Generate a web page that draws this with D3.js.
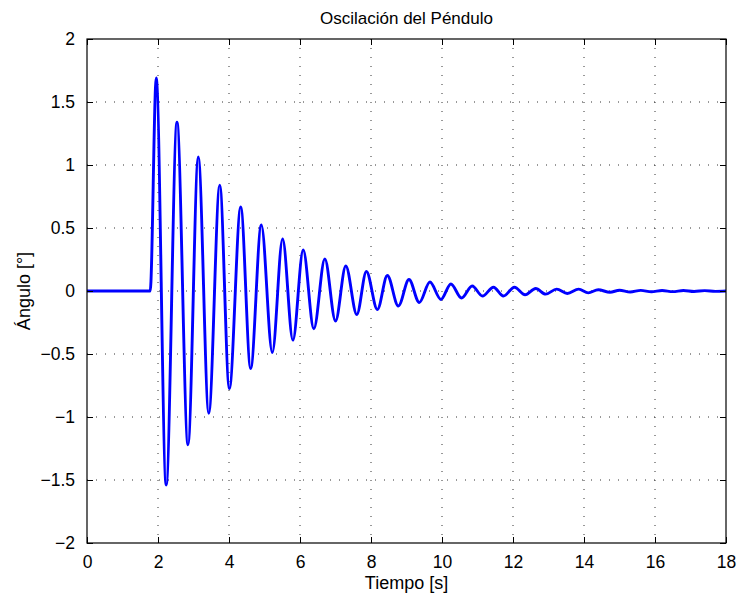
<!DOCTYPE html>
<html>
<head>
<meta charset="utf-8">
<script src="https://cdn.jsdelivr.net/npm/d3@7"></script>
<style>
  body { margin: 0; background: #fff; }
  text { font-family: "Liberation Sans", Arial, sans-serif; }
</style>
</head>
<body>
<svg width="741" height="600"></svg>
<script>
// extremes of the oscillation (time in s, angle in deg)
let times = [0, 1.78, 1.95, 2.23, 2.535, 2.845, 3.135, 3.43, 3.74, 4.01, 4.33, 4.61,
  4.91, 5.22, 5.51, 5.8, 6.09, 6.39, 6.7, 7.0, 7.29, 7.6, 7.87, 8.18, 8.46, 8.77,
  9.07, 9.36, 9.66, 9.97, 10.25, 10.55, 10.85, 11.14, 11.45, 11.73, 12.04, 12.34,
  12.64, 12.92, 13.23, 13.53, 13.85, 14.12, 14.4, 14.73, 15.0, 15.3, 15.6, 15.9,
  16.2, 16.5, 16.8, 17.1, 17.4, 17.7, 18];
let angles = [0, 0, 1.69, -1.54, 1.34, -1.22, 1.063, -0.97, 0.84, -0.775, 0.667, -0.615,
  0.524, -0.488, 0.413, -0.39, 0.325, -0.3, 0.254, -0.238, 0.198, -0.187, 0.155, -0.147,
  0.123, -0.119, 0.091, -0.091, 0.071, -0.067, 0.056, -0.056, 0.04, -0.04, 0.03, -0.04,
  0.03, -0.03, 0.02, -0.025, 0.015, -0.02, 0.015, -0.015, 0.01, -0.01, 0.006, -0.008,
  0.005, -0.006, 0.004, -0.005, 0.004, -0.004, 0.003, -0.003, 0];
let xTicks = [0, 2, 4, 6, 8, 10, 12, 14, 16, 18];
let yTicks = [-2, -1.5, -1, -0.5, 0, 0.5, 1, 1.5, 2];

let margin = { top: 39, right: 15, bottom: 57, left: 87 },
  width = 741 - margin.left - margin.right,
  height = 600 - margin.top - margin.bottom;

let svg = d3.select("svg");
let g = svg.append("g").attr("transform", `translate(${margin.left},${margin.top})`);

let x = d3.scaleLinear().domain([0, 18]).range([0, width]);
let y = d3.scaleLinear().domain([-2, 2]).range([height, 0]);

// dotted grid
g.selectAll("line.vgrid")
  .data(xTicks.slice(1, -1))
  .enter()
  .append("line")
  .attr("x1", (d) => x(d)).attr("x2", (d) => x(d))
  .attr("y1", 0).attr("y2", height)
  .attr("stroke", "#333")
  .attr("stroke-width", 1)
  .attr("stroke-dasharray", "1,8");
g.selectAll("line.hgrid")
  .data(yTicks.slice(1, -1))
  .enter()
  .append("line")
  .attr("x1", 0).attr("x2", width)
  .attr("y1", (d) => y(d)).attr("y2", (d) => y(d))
  .attr("stroke", "#333")
  .attr("stroke-width", 1)
  .attr("stroke-dasharray", "1,8");

// signal
let data = times.map((t, i) => ({ t: t, a: angles[i] }));
let line = d3.line()
  .x((d) => x(d.t))
  .y((d) => y(d.a))
  .curve(d3.curveMonotoneX);
g.append("path")
  .datum(data)
  .attr("d", line)
  .attr("fill", "none")
  .attr("stroke", "#0000ff")
  .attr("stroke-width", 2.9)
  .attr("stroke-linejoin", "round");

// axes with inward ticks on all four sides
const fmt = (d) => (d < 0 ? "\u2212" + Math.abs(d) : "" + d);
let xAxis = g.append("g").attr("transform", `translate(0,${height})`)
  .call(d3.axisBottom(x).tickValues(xTicks).tickSizeInner(-6).tickSizeOuter(0).tickPadding(13).tickFormat(fmt));
let xAxisTop = g.append("g")
  .call(d3.axisTop(x).tickValues(xTicks).tickSizeInner(-6).tickSizeOuter(0).tickFormat(""));
let yAxis = g.append("g")
  .call(d3.axisLeft(y).tickValues(yTicks).tickSizeInner(-6).tickSizeOuter(0).tickPadding(12).tickFormat(fmt));
let yAxisRight = g.append("g").attr("transform", `translate(${width},0)`)
  .call(d3.axisRight(y).tickValues(yTicks).tickSizeInner(-6).tickSizeOuter(0).tickFormat(""));

[xAxis, xAxisTop, yAxis, yAxisRight].forEach((a) => {
  a.select(".domain").remove();
  a.selectAll("line").attr("stroke", "#000");
  a.selectAll("text").attr("font-size", "17.5px").attr("fill", "#000")
    .style("font-family", "'Liberation Sans', Arial, sans-serif");
});

g.append("rect")
  .attr("width", width).attr("height", height)
  .attr("fill", "none").attr("stroke", "#000").attr("stroke-width", 1.2);

// labels
svg.append("text")
  .attr("x", margin.left + width / 2).attr("y", 24)
  .attr("text-anchor", "middle").attr("font-size", "17px")
  .text("Oscilación del Péndulo");
svg.append("text")
  .attr("x", margin.left + width / 2).attr("y", 589)
  .attr("text-anchor", "middle").attr("font-size", "18px")
  .text("Tiempo [s]");
svg.append("text")
  .attr("transform", `translate(30,${margin.top + height / 2}) rotate(-90)`)
  .attr("text-anchor", "middle").attr("font-size", "18px")
  .text("Ángulo [°]");
</script>
</body>
</html>
